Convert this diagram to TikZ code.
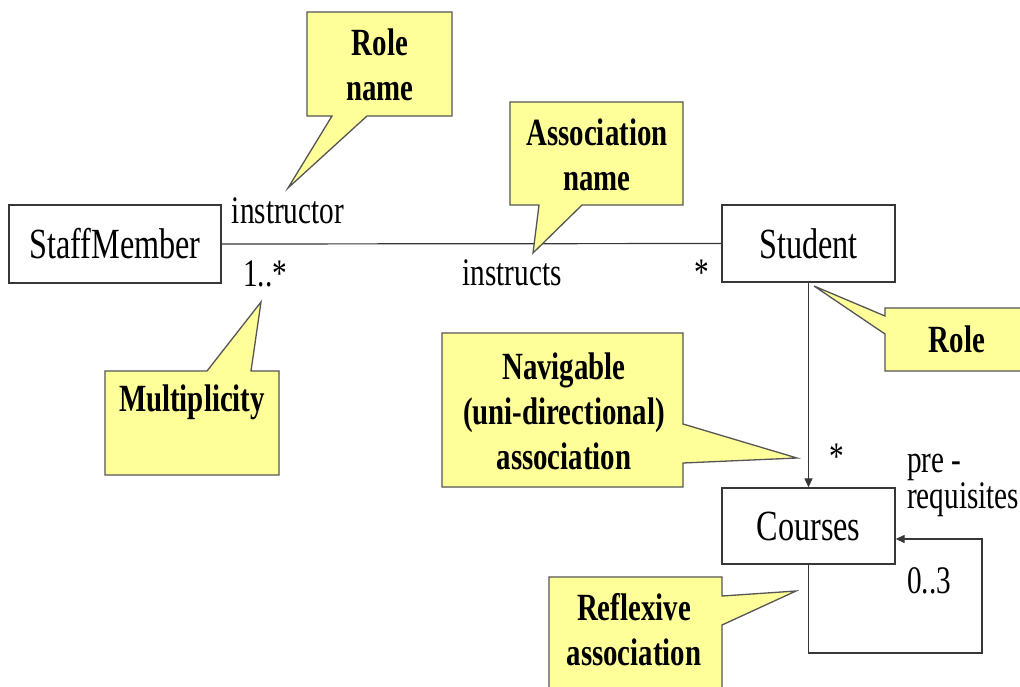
\documentclass[tikz,border=0pt]{standalone}
\usepackage{fontspec}
\setmainfont{Liberation Serif}[FakeStretch=0.75]
\usetikzlibrary{arrows.meta}
\definecolor{callfill}{RGB}{255,255,153}
\definecolor{lineclr}{RGB}{55,55,55}
\tikzset{
  cls/.style={draw=lineclr, line width=1.3pt, inner sep=0pt, font=\fontsize{43}{50}\selectfont},
  lbl/.style={inner sep=0pt, font=\fontsize{39}{45}\selectfont},
  callout/.style={fill=callfill, draw=lineclr!85, line width=1.3pt, line join=miter},
  calltext/.style={inner sep=0pt, align=center, font=\fontsize{38.5}{45}\selectfont\bfseries},
  assoc/.style={draw=lineclr, line width=1.2pt},
  navarrow/.style={assoc, -{Triangle[length=9pt,width=8pt]}}
}
\begin{document}
\begin{tikzpicture}[x=1pt,y=-1pt]
\useasboundingbox (0,0) rectangle (1020,686);
\clip (0,0) rectangle (1020,686);
\fill[white] (0,0) rectangle (1020,686);

% classes
\node[cls, minimum width=212pt, minimum height=78pt] (staff) at (115,244) {StaffMember};
\node[cls, minimum width=173pt, minimum height=77pt] (student) at (808.5,243.5) {Student};
\node[cls, minimum width=173pt, minimum height=76pt] (courses) at (808.5,526) {Courses};

% associations
\draw[assoc] (staff.east) -- (student.west);
\draw[navarrow] (student.south) -- (courses.north);
\coordinate (loopA) at (982,653);
\draw[navarrow] (courses.south) |- (loopA) |- ([yshift=-13pt]courses.east);

% association labels
\node[lbl, anchor=base] (instructor) at (288,223) {instructor};
\node[lbl, anchor=base] (mult1) at (265,286) {1..*};
\node[lbl, anchor=base] (instructs) at (512,285) {instructs};
\node[lbl, anchor=base] (mult2) at (702,285) {*};
\node[lbl, anchor=base] (mult3) at (837,469) {*};
\node[lbl, anchor=base west] (pre) at (907,472) {pre -};
\node[lbl, anchor=base west] (requisites) at (907,508) {requisites};
\node[lbl, anchor=base west] (mult4) at (907,593) {0..3};

% callouts
\draw[callout] (307,12) -- (452,12) -- (452,116) -- (367,116) -- (288,188) -- (332,116) -- (307,116) -- cycle;
\node[calltext] (rolename) at (380,65) {Role\\name};

\draw[callout] (510,102) -- (683,102) -- (683,205) -- (582,205) -- (533,253) -- (539,205) -- (510,205) -- cycle;
\node[calltext] (assocname) at (597,155) {Association\\name};

\draw[callout] (105,371) -- (207,371) -- (261,302) -- (251,371) -- (279,371) -- (279,475) -- (105,475) -- cycle;
\node[calltext] (multiplicity) at (192,402) {Multiplicity};

\draw[callout] (885,308) -- (1030,308) -- (1030,371) -- (885,371) -- (885,334) -- (814,286) -- (885,316) -- cycle;
\node[calltext] (role) at (957,339) {Role};

\draw[callout] (442,333) -- (683,333) -- (683,424) -- (797,458) -- (683,463) -- (683,487) -- (442,487) -- cycle;
\node[calltext] (navigable) at (564,411) {Navigable\\(uni-directional)\\association};

\draw[callout] (549,577) -- (722,577) -- (722,596) -- (796,591) -- (722,625) -- (722,700) -- (549,700) -- cycle;
\node[calltext] (reflexive) at (634,630) {Reflexive\\association};
\end{tikzpicture}
\end{document}
